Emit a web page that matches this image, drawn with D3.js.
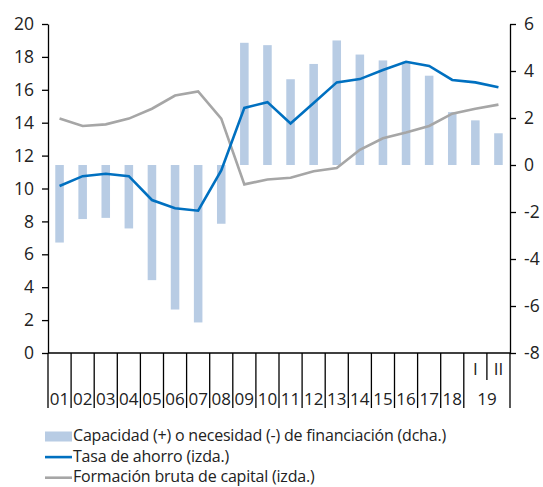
<!DOCTYPE html>
<html>
<head>
<meta charset="utf-8">
<script src="https://cdn.jsdelivr.net/npm/d3@7"></script>
<style>
  body { margin: 0; background: #fff; }
  svg text { font-family: "Open Sans", "Noto Sans", sans-serif; fill: #222; }
</style>
</head>
<body>
<div id="chart"></div>
<script>
// categories (years 2001-2018, then 2019 quarters I and II)
const categories = ['01','02','03','04','05','06','07','08','09','10','11','12','13','14','15','16','17','18','I','II'];
// capacidad / necesidad de financiación (right axis)
const capacidad = [-3.3,-2.3,-2.25,-2.7,-4.9,-6.15,-6.7,-2.5,5.2,5.1,3.65,4.3,5.3,4.7,4.45,4.4,3.8,2.25,1.9,1.35];
// tasa de ahorro (left axis)
const ahorro = [10.15,10.75,10.9,10.75,9.3,8.8,8.65,11.1,14.9,15.25,13.95,15.2,16.45,16.65,17.2,17.7,17.45,16.6,16.45,16.15];
// formación bruta de capital (left axis)
const formacion = [14.25,13.8,13.9,14.25,14.85,15.65,15.9,14.25,10.25,10.55,10.65,11.05,11.25,12.35,13.05,13.4,13.8,14.55,14.85,15.1];

const leftTicks = [0,2,4,6,8,10,12,14,16,18,20];
const rightTicks = [-8,-6,-4,-2,0,2,4,6];

const legendItems = [
  {label: 'Capacidad (+) o necesidad (-) de financiación (dcha.)', type: 'bar'},
  {label: 'Tasa de ahorro (izda.)', type: 'line', color: '#0070c0'},
  {label: 'Formación bruta de capital (izda.)', type: 'line', color: '#a6a6a6'}
];

const width = 543, height = 487;
const margin = {top: 24, right: 33, bottom: 134, left: 48};
const barColor = '#b8cce4';

const svg = d3.select('#chart').append('svg')
  .attr('width', width)
  .attr('height', height);

const x = d3.scaleBand()
  .domain(d3.range(categories.length))
  .range([margin.left, width - margin.right]);

const yL = d3.scaleLinear().domain([0, 20]).range([height - margin.bottom, margin.top]);
const yR = d3.scaleLinear().domain([-8, 6]).range([height - margin.bottom, margin.top]);

const cx = i => x(i) + x.bandwidth() / 2;
const bw = x.bandwidth() * 0.37;

// bars
svg.append('g')
  .attr('fill', barColor)
  .selectAll('rect')
  .data(capacidad)
  .join('rect')
    .attr('x', (d, i) => cx(i) - bw / 2)
    .attr('y', d => yR(Math.max(0, d)))
    .attr('width', bw)
    .attr('height', d => Math.abs(yR(d) - yR(0)));

// lines
const line = yScale => d3.line().x((d, i) => cx(i)).y(d => yScale(d));

svg.append('path')
  .datum(formacion)
  .attr('fill', 'none')
  .attr('stroke', '#a6a6a6')
  .attr('stroke-width', 2.6)
  .attr('d', line(yL));

svg.append('path')
  .datum(ahorro)
  .attr('fill', 'none')
  .attr('stroke', '#0070c0')
  .attr('stroke-width', 2.6)
  .attr('d', line(yL));

// left axis
const leftAxis = svg.append('g')
  .attr('transform', `translate(${margin.left},0)`)
  .call(d3.axisLeft(yL).tickValues(leftTicks).tickSize(6).tickPadding(8).tickSizeOuter(0));

// right axis (plain hyphen for negatives, as in the original)
const rightAxis = svg.append('g')
  .attr('transform', `translate(${width - margin.right},0)`)
  .call(d3.axisRight(yR).tickValues(rightTicks).tickFormat(d => String(d))
    .tickSize(6).tickPadding(8).tickSizeOuter(0));

[leftAxis, rightAxis].forEach(g => {
  g.select('.domain').attr('stroke', '#000').attr('stroke-width', 1.3);
  g.selectAll('.tick line').attr('stroke', '#000').attr('stroke-width', 1.3);
  g.selectAll('.tick text').attr('font-size', 17.5).attr('fill', '#222');
});

// bottom axis: baseline plus separators between categories
const y0 = height - margin.bottom;
const sep = svg.append('g').attr('stroke', '#000').attr('stroke-width', 1.3);
sep.append('line')
  .attr('x1', margin.left).attr('x2', width - margin.right)
  .attr('y1', y0).attr('y2', y0);

const bounds = d3.range(categories.length + 1);
sep.selectAll('line.sep')
  .data(bounds)
  .join('line')
    .attr('class', 'sep')
    .attr('x1', i => i < categories.length ? x(i) : x.range()[1])
    .attr('x2', i => i < categories.length ? x(i) : x.range()[1])
    .attr('y1', y0)
    .attr('y2', i => categories[i] === 'II' ? y0 + 27 : y0 + 55);

const labels = svg.append('g').attr('font-size', 17).attr('text-anchor', 'middle');

labels.selectAll('text.cat')
  .data(categories)
  .join('text')
    .attr('class', 'cat')
    .attr('x', (d, i) => cx(i))
    .attr('y', d => (d === 'I' || d === 'II') ? y0 + 22 : y0 + 51.5)
    .text(d => d);

// year label for 2019 quarters
labels.append('text')
  .attr('x', x(categories.indexOf('I')) + x.bandwidth())
  .attr('y', y0 + 51.5)
  .text('19');

// legend
const legend = svg.append('g').attr('transform', 'translate(45,436.5)');
legendItems.forEach((item, i) => {
  const g = legend.append('g').attr('transform', `translate(0,${i * 20.6})`);
  if (item.type === 'bar') {
    g.append('rect').attr('x', 0).attr('y', -5).attr('width', 27).attr('height', 10).attr('fill', barColor);
  } else {
    g.append('line').attr('x1', 0).attr('x2', 27).attr('y1', 0).attr('y2', 0)
      .attr('stroke', item.color).attr('stroke-width', 2.6);
  }
  g.append('text')
    .attr('x', 28)
    .attr('y', 4.5)
    .attr('font-size', 16)
    .attr('letter-spacing', -0.2)
    .text(item.label);
});
</script>
</body>
</html>
